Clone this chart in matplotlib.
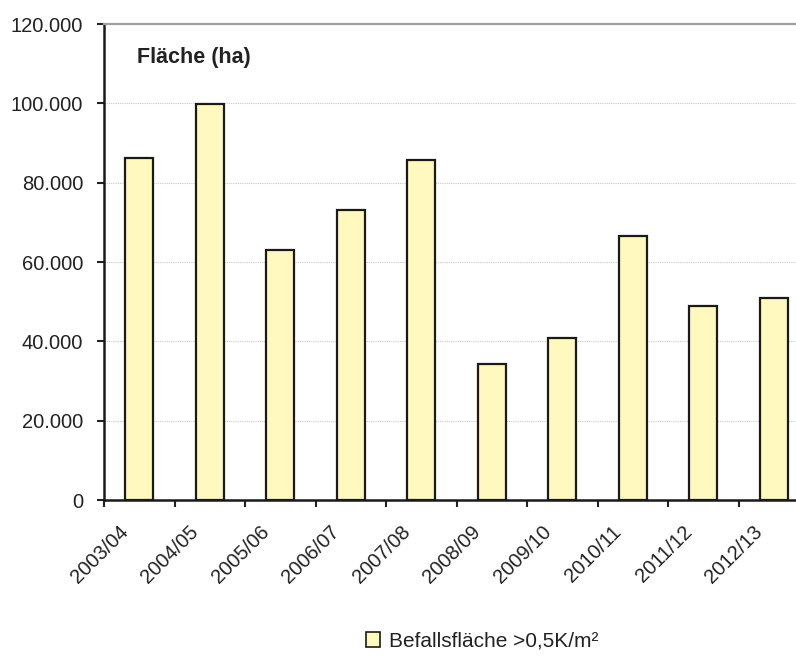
import numpy as np
import matplotlib.pyplot as plt
import matplotlib.transforms as mtransforms
from matplotlib.ticker import FuncFormatter, FixedLocator
from matplotlib.patches import Patch

plt.rcParams['font.family'] = ['Liberation Sans', 'DejaVu Sans']
plt.rcParams['text.color'] = '#222222'

# Befallsfläche je Saison (ha)
seasons = ['2003/04', '2004/05', '2005/06', '2006/07', '2007/08',
           '2008/09', '2009/10', '2010/11', '2011/12', '2012/13']
area_ha = [86100, 99900, 62900, 73100, 85600,
           34300, 40800, 66600, 48800, 50800]

fig = plt.figure(figsize=(7.96, 6.57), dpi=100)
ax = fig.add_axes([104 / 796, 157 / 657, 705 / 796, 476 / 657])

x = np.arange(len(seasons))
ax.bar(x, area_ha, width=0.4, color='#FFF8BF', edgecolor='#1a1a1a',
       linewidth=1.6, zorder=3, label='Befallsfläche >0,5K/m²')

ax.set_xlim(-0.5, len(seasons) - 0.5)
ax.set_ylim(0, 120000)
ax.set_yticks(np.arange(0, 120001, 20000))
ax.yaxis.set_major_formatter(FuncFormatter(lambda v, p: f'{int(v):,}'.replace(',', '.')))

# Kategoriegrenzen als Ticks, Beschriftung schräg darunter
ax.xaxis.set_major_locator(FixedLocator(np.arange(-0.5, len(seasons), 1.0)))
ax.xaxis.set_major_formatter(FuncFormatter(lambda v, p: ''))
ax.set_xticks(x, minor=True)
ax.set_xticklabels(seasons, minor=True, rotation=45, ha='right',
                   rotation_mode='anchor', fontsize=14.5, color='#222222')
ax.tick_params(axis='x', which='minor', length=0, pad=16)
ax.tick_params(axis='x', which='major', length=5, width=1.5, color='#222222')
ax.tick_params(axis='y', length=5, width=1.5, color='#222222',
               labelsize=14.5, labelcolor='#222222', pad=10)

shift = mtransforms.ScaledTranslation(-21 / 100, 0, fig.dpi_scale_trans)
for lbl in ax.get_xticklabels(minor=True):
    lbl.set_transform(lbl.get_transform() + shift)

ax.grid(axis='y', color='#c8c8c8', linestyle=(0, (1, 1)), linewidth=0.8, zorder=0)
ax.spines['right'].set_visible(False)
ax.spines['top'].set_color('#a0a0a0')
ax.spines['top'].set_linewidth(1.6)
for s in ['left', 'bottom']:
    ax.spines[s].set_linewidth(1.8)
    ax.spines[s].set_color('#1a1a1a')

fig.text(137 / 796, 1 - 58 / 657, 'Fläche (ha)', fontsize=15.5,
         fontweight='bold', va='center', ha='left')

handle = Patch(facecolor='#FFF8BF', edgecolor='#1a1a1a', linewidth=1.2)
fig.legend([handle], ['Befallsfläche >0,5K/m²'], loc='center',
           bbox_to_anchor=(482 / 796, 1 - 641 / 657), frameon=False,
           fontsize=15, handlelength=0.7, handleheight=0.7, handletextpad=0.4)

fig.savefig('out.png', dpi=100)
